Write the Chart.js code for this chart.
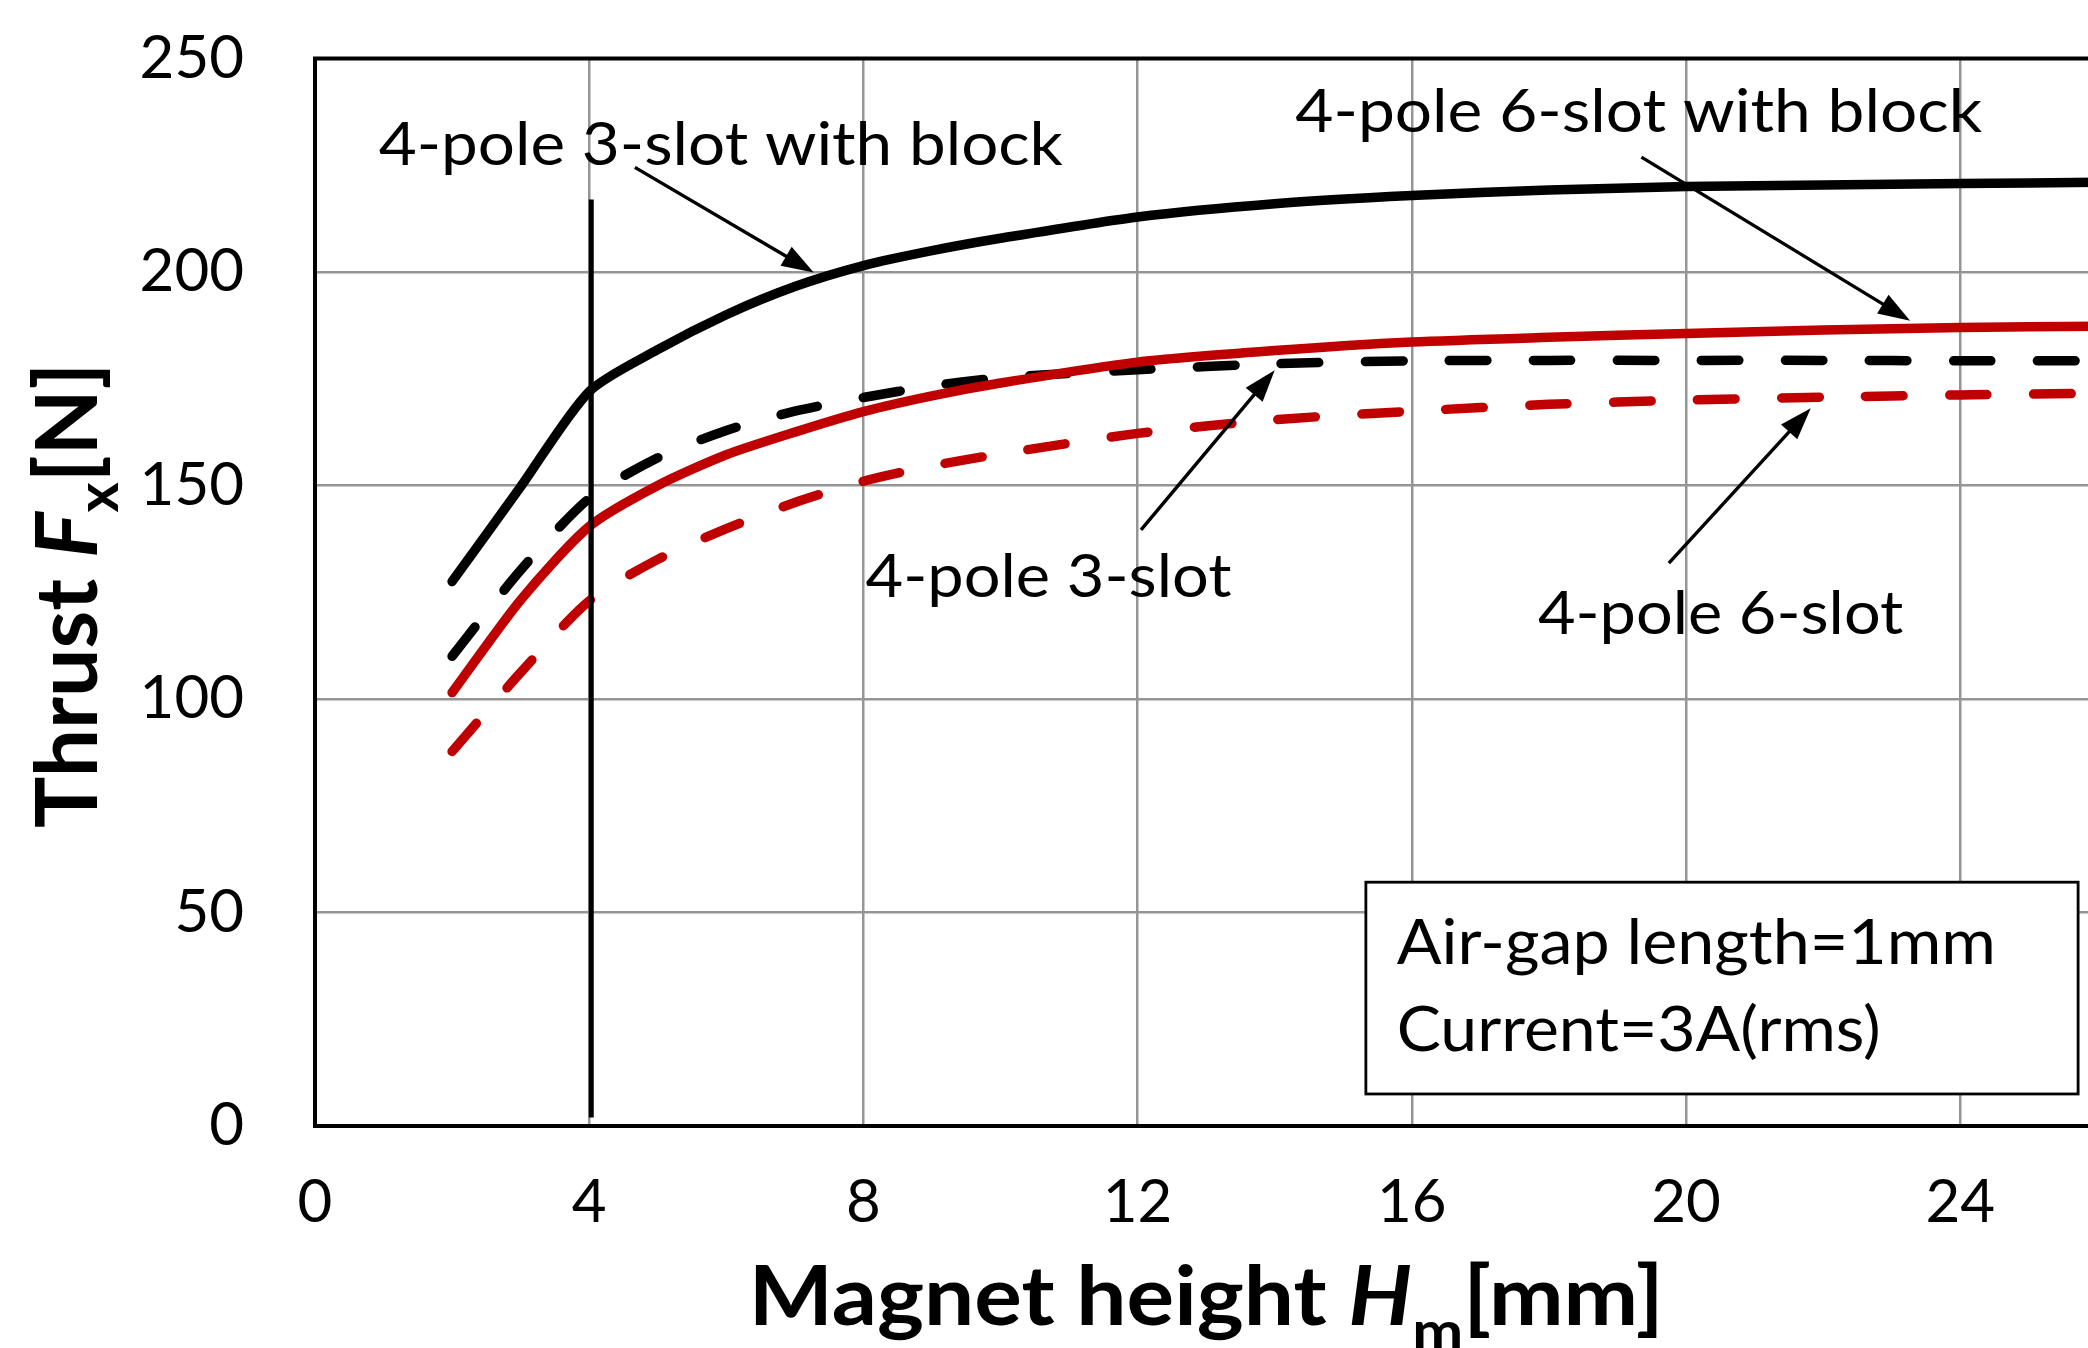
<!DOCTYPE html>
<html><head><meta charset="utf-8">
<script src="https://cdn.jsdelivr.net/npm/chart.js@4.4.1/dist/chart.umd.min.js"></script>
<style>
html,body{margin:0;padding:0;background:#fff;overflow:hidden;}
#wrap{position:relative;width:2100px;height:1348px;}
canvas{display:block;}
</style></head><body>
<div id="wrap"><canvas id="c" width="2100" height="1348"></canvas></div>
<script>
// ---- data ----
const magnetHeights = [2,3,4,5,6,7,8,9,10,12,14,16,18,20,22,24,26];
const thrust3SlotBlock = [127.5,149.7,172,181.8,190,196.6,201.5,205,207.9,212.9,216,217.9,219.2,220,220.4,220.7,221];
const thrust3Slot      = [110,130.2,147,156.5,162.9,167.4,170.6,173.3,175.2,177.1,178.5,179.2,179.3,179.3,179.3,179.2,179.2];
const thrust6SlotBlock = [101.5,123.2,140.4,150,157.2,162.5,167.3,171,174,178.9,181.6,183.6,184.7,185.6,186.4,187,187.3];
const thrust6Slot      = [87.7,106.2,123,132.7,139.9,146,151,154.6,157.4,162.2,165.4,167.4,169,170,170.7,171.2,171.6];
const xTickValues = [0,4,8,12,16,20,24];
const yTickValues = [0,50,100,150,200,250];
const seriesNames = ['4-pole 3-slot with block','4-pole 3-slot','4-pole 6-slot with block','4-pole 6-slot'];
const markerHeight = 4.03;

// ---- annotations (in data units) ----
const labelTexts = [
  {text:'4-pole 3-slot with block', x:0.93, y:225.0, w:9.98},
  {text:'4-pole 6-slot with block', x:14.30, y:232.9, w:10.02},
  {text:'4-pole 3-slot', x:8.03, y:123.9, w:5.34},
  {text:'4-pole 6-slot', x:17.84, y:115.2, w:5.33}
];
const arrows = [
  {from:[4.667,224.5], to:[7.275,199.9]},
  {from:[19.35,226.9], to:[23.27,188.6]},
  {from:[12.05,139.6], to:[14.0,177.0]},
  {from:[19.75,131.8], to:[21.82,168.1]}
];
const noteBox = {x1:15.33, x2:25.72, y1:57.1, y2:7.5};
const noteLines = [
  {text:'Air-gap length=1mm', x:15.78, y:38.0, w:8.74},
  {text:'Current=3A(rms)', x:15.78, y:17.6, w:7.06}
];

const RED = '#c00000';
const FONT = 'Lato, "Open Sans", sans-serif';

function pts(ys){ return magnetHeights.map((x,i)=>({x:x,y:ys[i]})); }

function drawRuns(ctx, runs, x, y, targetW, rotate){
  let total = 0;
  runs.forEach(r=>{ ctx.font = r.font; r.w = ctx.measureText(r.t).width; total += r.w; });
  const sx = targetW ? targetW/total : 1;
  ctx.save();
  ctx.translate(x,y);
  if (rotate) ctx.rotate(-Math.PI/2);
  ctx.scale(sx,1);
  ctx.fillStyle = '#000';
  ctx.textBaseline = 'alphabetic';
  ctx.textAlign = 'left';
  let cx = 0;
  runs.forEach(r=>{ ctx.font = r.font; ctx.fillText(r.t, cx, r.dy||0); cx += r.w; });
  ctx.restore();
}

function arrow(ctx, x1,y1,x2,y2){
  const dx=x2-x1, dy=y2-y1, L=Math.hypot(dx,dy), ux=dx/L, uy=dy/L;
  const hl=32, hw=11;
  const bx=x2-ux*hl, by=y2-uy*hl;
  ctx.save();
  ctx.strokeStyle='#000'; ctx.fillStyle='#000'; ctx.lineWidth=3.4;
  ctx.beginPath(); ctx.moveTo(x1,y1); ctx.lineTo(bx+ux*4,by+uy*4); ctx.stroke();
  ctx.beginPath(); ctx.moveTo(x2,y2); ctx.lineTo(bx-uy*hw,by+ux*hw); ctx.lineTo(bx+uy*hw,by-ux*hw); ctx.closePath(); ctx.fill();
  ctx.restore();
}

const overlay = {
  id:'overlay',
  afterDatasetsDraw(chart){
    const ctx=chart.ctx, xs=chart.scales.x, ys=chart.scales.y, a=chart.chartArea;
    const X=v=>xs.getPixelForValue(v), Y=v=>ys.getPixelForValue(v);
    ctx.save();
    ctx.strokeStyle='#000'; ctx.lineWidth=5;
    ctx.beginPath(); ctx.moveTo(X(markerHeight),Y(217)); ctx.lineTo(X(markerHeight),Y(2)); ctx.stroke();
    ctx.lineWidth=4; ctx.strokeStyle='#000';
    ctx.strokeRect(a.left,a.top,a.right-a.left,a.bottom-a.top);
    const bx1=X(noteBox.x1), bx2=X(noteBox.x2), by1=Y(noteBox.y1), by2=Y(noteBox.y2);
    ctx.fillStyle='#fff'; ctx.fillRect(bx1,by1,bx2-bx1,by2-by1);
    ctx.lineWidth=2.8; ctx.strokeRect(bx1,by1,bx2-bx1,by2-by1);
    ctx.restore();
    noteLines.forEach(n=>{
      drawRuns(ctx,[{t:n.text,font:'62px '+FONT}],X(n.x),Y(n.y),X(n.x+n.w)-X(n.x),false);
    });
    labelTexts.forEach(n=>{
      drawRuns(ctx,[{t:n.text,font:'60px '+FONT}],X(n.x),Y(n.y),X(n.x+n.w)-X(n.x),false);
    });
    arrows.forEach(r=>arrow(ctx,X(r.from[0]),Y(r.from[1]),X(r.to[0]),Y(r.to[1])));
  },
  afterDraw(chart){
    const ctx=chart.ctx, a=chart.chartArea;
    const yRuns=[
      {t:'Thrust ',font:'bold 86px '+FONT},
      {t:'F',font:'italic bold 86px '+FONT},
      {t:'x',font:'bold 58px '+FONT,dy:21},
      {t:'[N]',font:'bold 86px '+FONT}
    ];
    const yLen=465.5, yc=(a.top+a.bottom)/2+3;
    drawRuns(ctx,yRuns,a.left-218,yc+yLen/2,yLen,true);
    const xRuns=[
      {t:'Magnet height ',font:'bold 82px '+FONT},
      {t:'H',font:'italic bold 82px '+FONT},
      {t:'m',font:'bold 56px '+FONT,dy:26},
      {t:'[mm]',font:'bold 82px '+FONT}
    ];
    const xLen=915, xc=(a.left+a.right)/2;
    drawRuns(ctx,xRuns,xc-xLen/2,a.bottom+198.7,xLen,false);
  }
};

function build(){
  const common={pointRadius:0,borderWidth:9.5,fill:false,tension:0.25,borderCapStyle:'round',borderJoinStyle:'round'};
  const dash=[37.5,46.5];
  new Chart(document.getElementById('c'),{
    type:'line',
    data:{datasets:[
      Object.assign({label:seriesNames[2],data:pts(thrust6SlotBlock),borderColor:RED},common),
      Object.assign({label:seriesNames[3],data:pts(thrust6Slot),borderColor:RED,borderDash:dash},common),
      Object.assign({label:seriesNames[0],data:pts(thrust3SlotBlock),borderColor:'#000'},common),
      Object.assign({label:seriesNames[1],data:pts(thrust3Slot),borderColor:'#000',borderDash:dash},common)
    ]},
    options:{
      responsive:false,animation:false,devicePixelRatio:1,
      layout:{padding:{top:58.5,right:2.7,left:0,bottom:0}},
      plugins:{legend:{display:false},tooltip:{enabled:false}},
      scales:{
        x:{type:'linear',min:0,max:26,
          afterBuildTicks(s){s.ticks=xTickValues.map(v=>({value:v}));},
          afterFit(s){s.height=222;},
          grid:{color:'#959595',lineWidth:2.5,drawTicks:true,tickLength:41,tickColor:'rgba(0,0,0,0)'},
          border:{display:false},
          ticks:{padding:0,color:'#000',font:{family:FONT,size:60},maxRotation:0,autoSkip:false}
        },
        y:{type:'linear',min:0,max:250,
          afterBuildTicks(s){s.ticks=yTickValues.map(v=>({value:v}));},
          afterFit(s){s.width=315;},
          grid:{color:'#959595',lineWidth:2.5,drawTicks:true,tickLength:71,tickColor:'rgba(0,0,0,0)'},
          border:{display:false},
          ticks:{padding:0,color:'#000',font:{family:FONT,size:60},autoSkip:false}
        }
      }
    },
    plugins:[overlay]
  });
}
if (document.fonts && document.fonts.load){
  Promise.all([document.fonts.load('60px Lato'),document.fonts.load('bold 60px Lato'),document.fonts.load('italic bold 60px Lato')]).then(build,build);
} else build();
</script>
</body></html>
